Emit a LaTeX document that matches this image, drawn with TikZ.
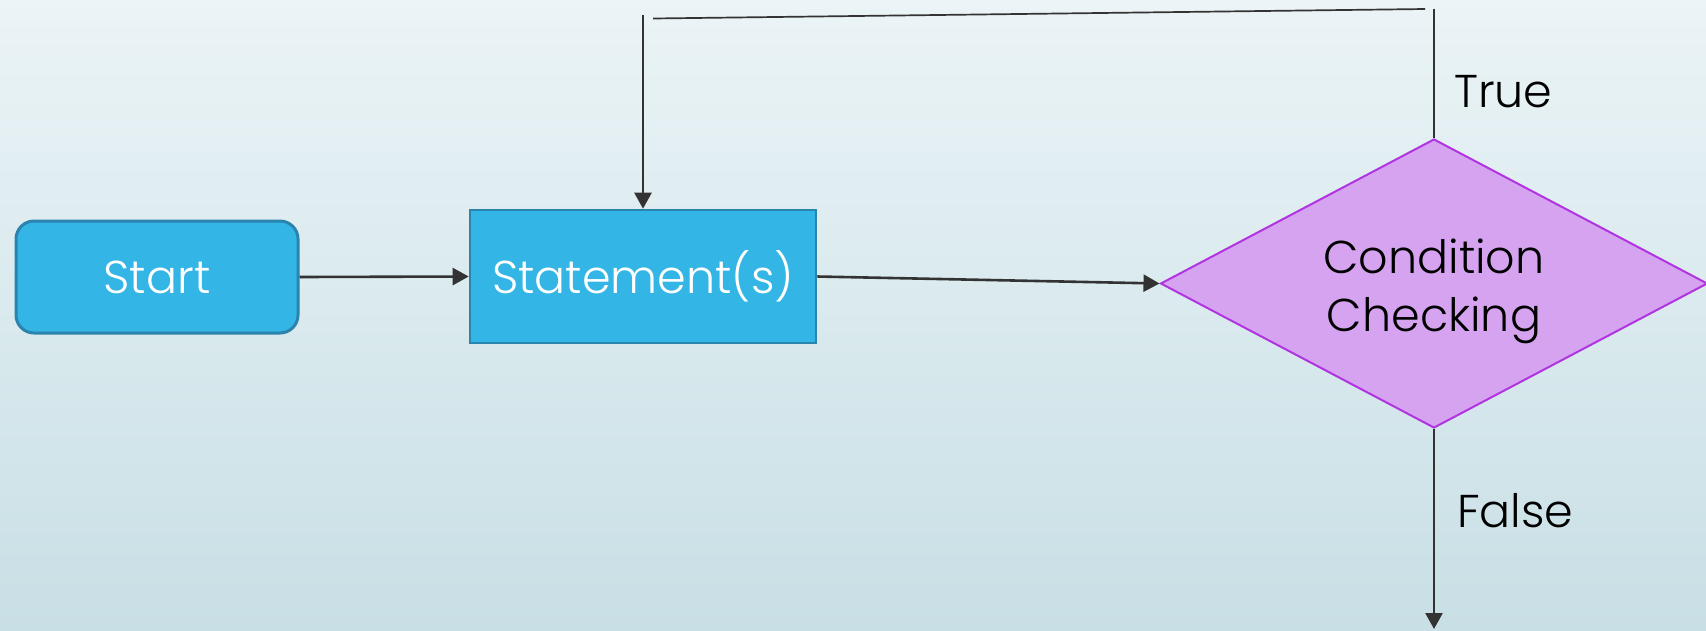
\documentclass[tikz,border=0pt]{standalone}
\usepackage{fontspec}
\setmainfont{Poppins}[UprightFont=* Light]
\usetikzlibrary{shapes.geometric,arrows.meta}
\definecolor{bgtop}{HTML}{EBF4F6}
\definecolor{bgbot}{HTML}{C8DFE5}
\definecolor{boxfill}{HTML}{33B5E5}
\definecolor{boxline}{HTML}{2A84AE}
\definecolor{diafill}{HTML}{D6A3F0}
\definecolor{dialine}{HTML}{B034E0}
\definecolor{ink}{HTML}{333333}
\tikzset{
  base/.style={font=\fontsize{46}{58}\selectfont},
  startbox/.style={base, draw=boxline, line width=3pt, fill=boxfill, text=white, rounded corners=18pt, minimum width=282pt, minimum height=112pt, inner sep=0pt},
  stmtbox/.style={base, draw=boxline, line width=2.6pt, fill=boxfill, text=white, minimum width=346pt, minimum height=133pt, inner sep=0pt},
  decision/.style={base, diamond, shape aspect=1.9, draw=dialine, line width=2pt, fill=diafill, text=black, align=center, minimum width=547pt, minimum height=289pt, inner sep=0pt},
  lbl/.style={base, text=black, anchor=west, inner sep=0pt},
  arr/.style={draw=ink, line width=2.6pt, -{Triangle[length=16pt,width=17pt]}},
  plain/.style={draw=ink, line width=1.7pt},
}
\begin{document}
\begin{tikzpicture}[x=1pt,y=-1pt]
\useasboundingbox (0,0) rectangle (1706,630);
\shade[top color=bgtop,bottom color=bgbot] (0,0) rectangle (1706,630);
\node[startbox] (start) at (157,277) {Start};
\node[stmtbox] (stmt) at (643,276.5) {Statement(s)};
\node[decision] (cond) at (1434,283.5) {\rule{0pt}{50pt}Condition\\Checking};
\node[lbl] (lblTrue) at (1454,92) {True};
\node[lbl] (lblFalse) at (1457,511) {False};
\coordinate (loopA) at (643,15);
\coordinate (loopB) at (653,18.5);
\coordinate (loopC) at (1425,9);
\coordinate (loopD) at (1434,8.5);
\coordinate (exit) at (1434,629);
\draw[arr] (start.east) -- (stmt.west);
\draw[arr] (stmt.east) -- (cond.west);
\draw[arr] (loopA) -- (stmt.north);
\draw[plain] (loopB) -- (loopC);
\draw[plain] (cond.north) -- (loopD);
\draw[arr] (cond.south) -- (exit);
\end{tikzpicture}
\end{document}
